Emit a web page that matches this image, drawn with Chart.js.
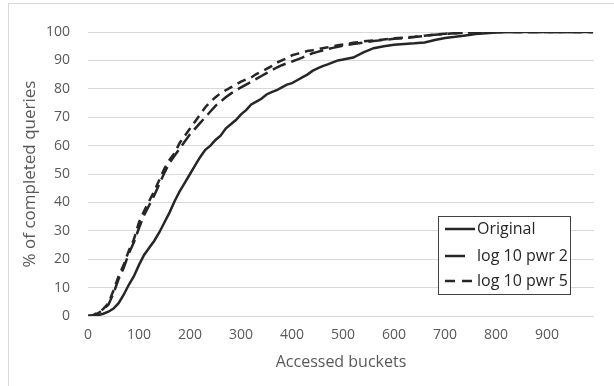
<!DOCTYPE html>
<html>
<head>
<meta charset="utf-8">
<script src="https://cdn.jsdelivr.net/npm/chart.js@4/dist/chart.umd.min.js"></script>
<style>
html,body{margin:0;padding:0;background:#fff;}
#wrap{position:relative;width:614px;height:386px;}
</style>
</head>
<body>
<div id="wrap"><canvas id="c" width="614" height="386"></canvas></div>
<script>
const buckets = [0,10,20,30,40,50,60,70,80,90,100,110,120,130,140,150,160,170,180,190,200,210,220,230,240,250,260,270,280,290,300,310,320,330,340,350,360,370,380,390,400,410,420,430,440,450,460,470,480,490,500,520,540,560,580,600,620,640,660,680,700,720,740,760,780,800,820,840,860,880,900,920,940,960,980,990];
const original = [0,0,0.3,0.8,1.5,2.6,4.5,7.5,11,14,18,21.5,24,26.5,29.5,33,36.5,40.5,44,47,50,53,56,58.5,60,62,63.5,66,67.5,69,71,72.5,74.5,75.5,76.5,78,78.8,79.5,80.5,81.5,82,83,84,85,86.3,87.2,88,88.6,89.3,90,90.3,91,92.8,94.3,95,95.5,95.8,96,96.3,97.2,97.9,98.3,98.8,99.3,99.6,99.8,100,100,100,100,100,100,100,100,100,100];
const log10pwr2 = [0,0.2,1,2.3,4,8,13,17,22,26,31,35.5,39,42.5,46.5,50.5,54,56.5,59,61.5,64,66,68,70,72,74,75.5,77,78.3,79.5,80.5,81.5,82.5,83.5,84.5,85.5,86.5,87.5,88.3,89,89.6,90.3,91,91.8,92.5,93,93.5,94,94.4,94.8,95.2,95.8,96.3,96.8,97.2,97.6,97.9,98.2,98.6,99,99.3,99.6,99.8,99.9,100,100,100,100,100,100,100,100,100,100,100,100];
const log10pwr5 = [0,0.3,1.2,2.5,4.5,9,14,18,23,27,33,37,40.5,44,48,52,55,57.5,61,63.5,66,68.5,71,73.5,75.5,77,78.5,79.5,80.5,81.5,82.5,83.3,84,85.2,86,87,88,89.2,90,90.8,91.8,92.3,92.8,93.3,93.6,94,94.3,94.6,95,95.3,95.6,96.2,96.7,97,97.4,97.8,98,98.3,98.7,99.1,99.4,99.6,99.8,100,100,100,100,100,100,100,100,100,100,100,100,100];
const seriesLabels = ['Original','log 10 pwr 2','log 10 pwr 5'];
const xTicks = [0,100,200,300,400,500,600,700,800,900];
const yTicks = [0,10,20,30,40,50,60,70,80,90,100];
const xTitle = 'Accessed buckets';
const yTitle = '% of completed queries';

const FONT = "'Open Sans', sans-serif";
const lineColor = '#262626';
const pts = arr => buckets.map((b,i)=>({x:b,y:arr[i]}));

const legendPlugin = {
  id:'boxLegend',
  afterDraw(chart){
    const ctx = chart.ctx;
    const x0 = 438.5, y0 = 216.5, w = 132, h = 78;
    ctx.save();
    ctx.fillStyle = '#fff';
    ctx.fillRect(x0,y0,w,h);
    ctx.strokeStyle = '#404040';
    ctx.lineWidth = 1;
    ctx.strokeRect(x0,y0,w,h);
    const rows = [229,256,281];
    chart.data.datasets.forEach((ds,i)=>{
      const y = rows[i];
      ctx.strokeStyle = ds.borderColor;
      ctx.lineWidth = ds.borderWidth;
      ctx.setLineDash(ds.legendDash || []);
      ctx.beginPath();
      ctx.moveTo(445,y); ctx.lineTo(475,y);
      ctx.stroke();
      ctx.setLineDash([]);
      ctx.fillStyle = '#262626';
      ctx.font = '16px ' + FONT;
      ctx.textBaseline = 'middle';
      ctx.textAlign = 'left';
      ctx.fillText(ds.label, 477, y);
    });
    ctx.restore();
  }
};
const framePlugin = {
  id:'frame',
  beforeDraw(chart){
    const ctx = chart.ctx;
    ctx.save();
    ctx.fillStyle='#fff';
    ctx.fillRect(0,0,chart.width,chart.height);
    ctx.strokeStyle='#d9d9d9';
    ctx.lineWidth=1;
    ctx.beginPath();
    ctx.moveTo(8.5,400); ctx.lineTo(8.5,3.5); ctx.lineTo(620,3.5);
    ctx.stroke();
    ctx.restore();
  }
};

new Chart(document.getElementById('c'),{
  type:'line',
  data:{datasets:[
    {label:seriesLabels[0],data:pts(original),borderColor:lineColor,borderWidth:2.5,pointRadius:0,tension:0,legendDash:[]},
    {label:seriesLabels[1],data:pts(log10pwr2),borderColor:lineColor,borderWidth:2.5,pointRadius:0,tension:0,borderDash:[14,6],legendDash:[20,40]},
    {label:seriesLabels[2],data:pts(log10pwr5),borderColor:lineColor,borderWidth:2.5,pointRadius:0,tension:0,borderDash:[9,6],legendDash:[10,7]}
  ]},
  options:{
    responsive:false,
    animation:false,
    events:[],
    layout:{padding:{left:20,right:20,top:32,bottom:14}},
    plugins:{legend:{display:false},tooltip:{enabled:false}},
    scales:{
      x:{
        type:'linear',min:0,max:992,
        afterBuildTicks(s){ s.ticks = xTicks.map(v=>({value:v})); },
        afterFit(s){ s.height = 56; },
        grid:{display:false,drawTicks:false},
        border:{display:false},
        ticks:{color:'#595959',font:{family:FONT,size:14},padding:11,maxRotation:0,autoSkip:false},
        title:{display:true,text:xTitle,color:'#595959',font:{family:FONT,size:16},padding:{top:2,bottom:0}}
      },
      y:{
        min:0,max:100,
        afterBuildTicks(s){ s.ticks = yTicks.map(v=>({value:v})); },
        afterFit(s){ s.width = 68; },
        grid:{color:'#d9d9d9',lineWidth:1,drawTicks:false},
        border:{display:false},
        ticks:{color:'#595959',font:{family:FONT,size:14},padding:18},
        title:{display:true,text:yTitle,color:'#595959',font:{family:FONT,size:17},padding:{top:0,bottom:0}}
      }
    }
  },
  plugins:[framePlugin,legendPlugin]
});
</script>
</body>
</html>
